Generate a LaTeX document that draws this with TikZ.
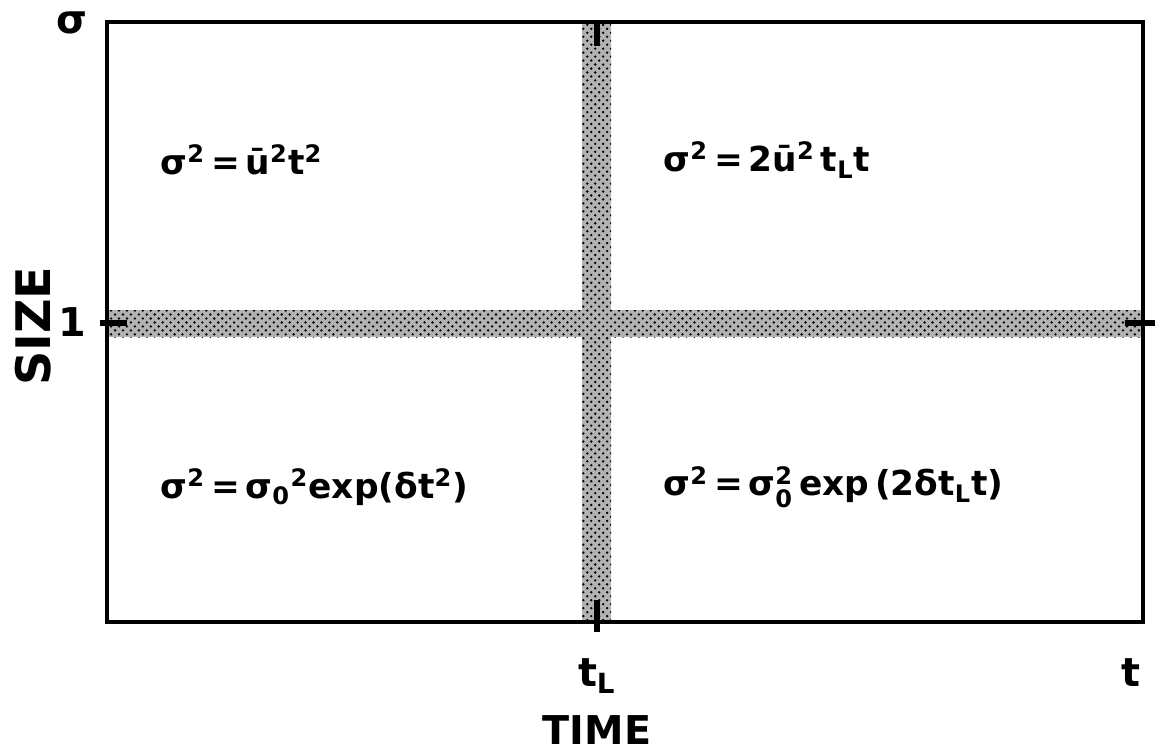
\documentclass[tikz,border=0pt]{standalone}
\usepackage{amsmath}
\usepackage{fontspec}
\setmainfont{DejaVu Sans}
\usetikzlibrary{patterns}
\tikzset{band/.style={preaction={fill=black!30},pattern=crosshatch dots,pattern color=black},
 frame/.style={line width=1.5pt},tk/.style={line width=2.2pt},
 lab/.style={font=\bfseries\fontsize{15}{17}\selectfont,inner sep=0pt},
 eq/.style={font=\bfseries\fontsize{13}{15}\selectfont,anchor=west,inner sep=0pt}}
\newcommand\up[1]{$^{\text{#1}}$}
\newcommand\dn[1]{$_{\text{#1}}$}

\begin{document}
\begin{tikzpicture}[x=0.378pt,y=-0.378pt]
\useasboundingbox (0,0) rectangle (1158,755);
\fill[band] (582,22) rectangle (611,622);
\fill[band] (107,310) rectangle (1143,337);
\draw[frame] (107,22) rectangle (1143,622);
% ticks at the ends of the bands
\coordinate (tt) at (597,22);\coordinate (tb) at (597,622);
\coordinate (tl) at (107,323);\coordinate (tr) at (1143,323);
\draw[tk] (tt)--++(0,24);\draw[tk] (tb)++(0,10)--++(0,-32);
\draw[tk] (tl)++(-7,0)--++(27,0);\draw[tk] (tr)++(12,0)--++(-30,0);
\node[lab] (sig) at (72,23) {σ};
\node[lab] (one) at (72,322) {1};
\node[lab,rotate=90,font=\bfseries\fontsize{18}{20}\selectfont] (size) at (33,326) {SIZE};
\node[lab] (tL) at (597,676) {t\dn{L}};
\node[lab] (t) at (1131,673) {t};
\node[lab] (time) at (597,730) {TIME};
\node[eq] (q1) at (160,160) {σ\up{2}\,=\,ū\up{2}t\up{2}};
\node[eq] (q2) at (663,160) {σ\up{2}\,=\,2ū\up{2}\,t\dn{L}t};
\node[eq] (q3) at (160,487) {σ\up{2}\,=\,σ\dn{0}\up{2}exp(δt\up{2})};
\node[eq] (q4) at (663,487) {σ\up{2}\,=\,σ$^{\text{2}}_{\text{0}}$\,exp\,(2δt\dn{L}t)};
\end{tikzpicture}
\end{document}
